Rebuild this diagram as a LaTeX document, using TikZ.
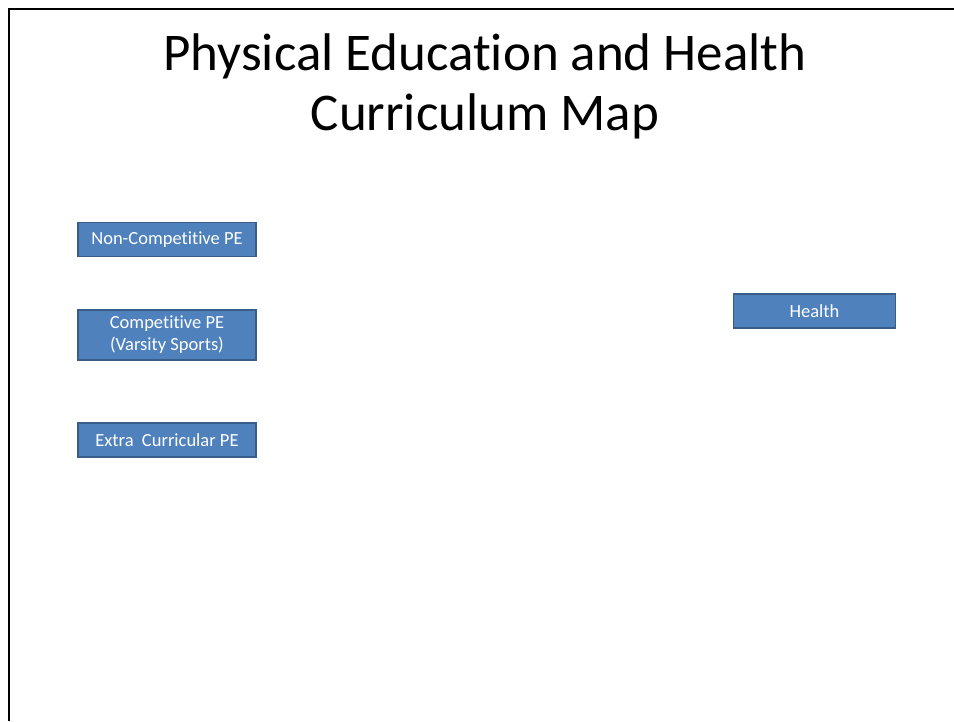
\documentclass[tikz,border=0pt]{standalone}
\usepackage{fontspec}
\setmainfont{Carlito}[Ligatures=NoCommon]
\definecolor{boxfill}{HTML}{4F81BD}
\definecolor{boxline}{HTML}{385D8A}
\begin{document}
\begin{tikzpicture}[x=1pt,y=-1pt,
  pebox/.style={draw=boxline,line width=1.5pt,fill=boxfill,text=white,
    font=\fontsize{18.5}{22}\selectfont,align=center,inner sep=0pt,
    minimum width=178pt,minimum height=34pt},
  frameline/.style={line width=2pt,black}]
\useasboundingbox (0,0) rectangle (954,721);
\fill[white] (0,0) rectangle (954,721);
\coordinate (tl) at (8.5,9);
\coordinate (tr) at (954,9);
\coordinate (bl) at (8.5,721);
\draw[frameline] (tr) -- (tl) -- (bl);
\node[font=\fontsize{53}{60}\selectfont,align=center,anchor=base] (title) at (485,130)
  {Physical Education and Health\\Curriculum Map};
\node[pebox] (nc) at (167,239.5) {Non-Competitive PE};
\node[pebox,minimum height=50pt] (comp) at (167,335) {Competitive PE\\(Varsity Sports)};
\node[pebox] (extra) at (167,440) {Extra\ \ Curricular PE};
\node[pebox,minimum width=162pt] (health) at (814.5,311) {Health};
\end{tikzpicture}
\end{document}
